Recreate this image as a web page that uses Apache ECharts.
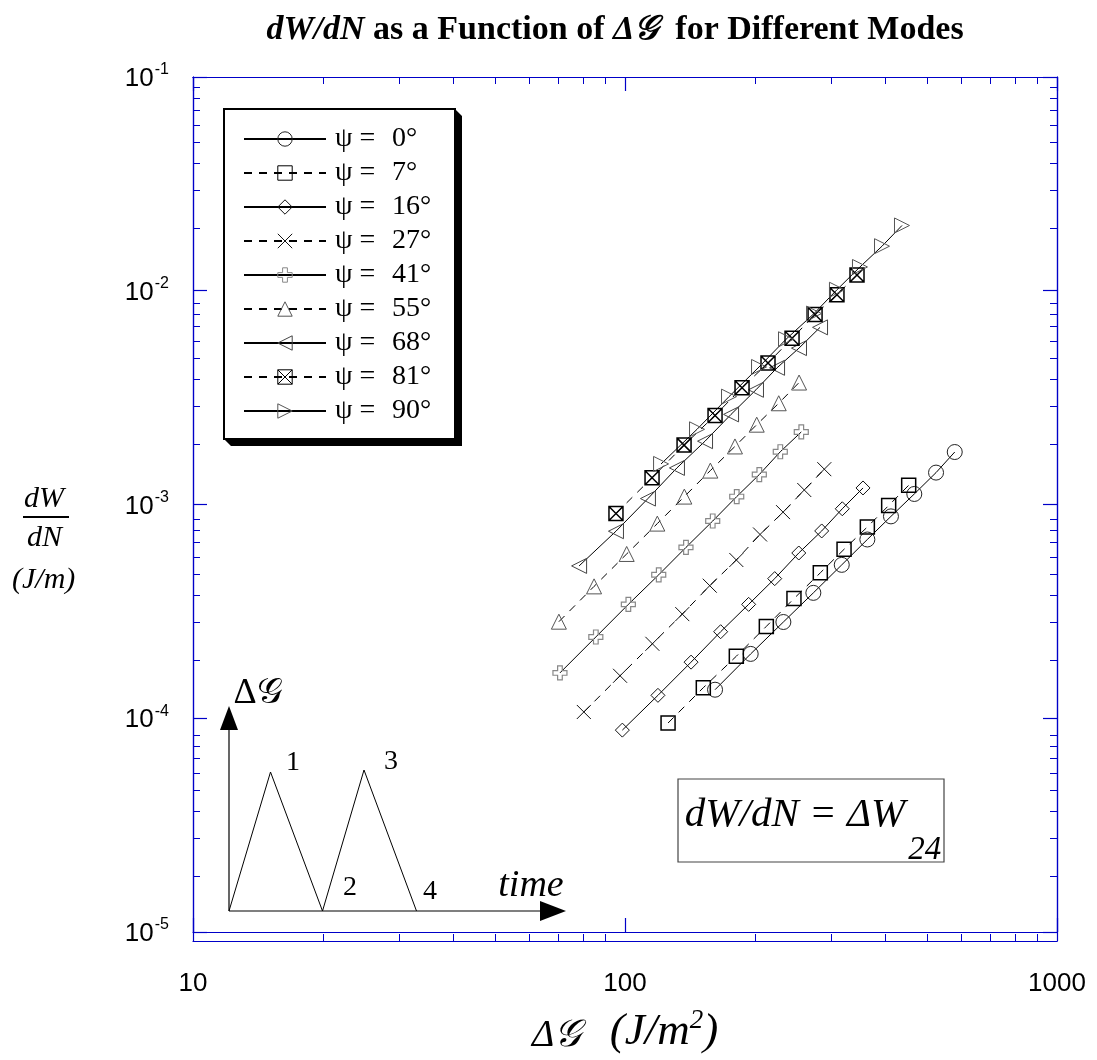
<!DOCTYPE html>
<html>
<head>
<meta charset="utf-8">
<script src="https://cdn.jsdelivr.net/npm/echarts@6/dist/echarts.min.js"></script>
<style>
  html, body { margin: 0; padding: 0; background: #fff; }
  #chart { width: 1097px; height: 1060px; }
</style>
</head>
<body>
<div id="chart"></div>
<script>
// Mode mixity angles (legend labels)
const angleLabels = ['0°', '7°', '16°', '27°', '41°', '55°', '68°', '81°', '90°'];

// Strain energy release rate range ΔG (J/m²) and energy dissipated per cycle dW/dN (J/m)
const dG_psi0  = [161.6, 195.4, 232.6, 272.9, 317.5, 363.9, 412.7, 467.4, 524.8, 579.8];
const dW_psi0  = [1.36e-4, 2.00e-4, 2.82e-4, 3.86e-4, 5.22e-4, 6.86e-4, 8.80e-4, 1.12e-3, 1.41e-3, 1.76e-3];
const dG_psi7  = [125.8, 151.8, 181.0, 212.4, 246.1, 283.2, 321.4, 363.9, 407.7, 453.6];
const dW_psi7  = [9.5e-5, 1.39e-4, 1.95e-4, 2.69e-4, 3.63e-4, 4.79e-4, 6.17e-4, 7.85e-4, 9.89e-4, 1.23e-3];
const dG_psi16 = [98.6, 119.2, 142.2, 166.5, 193.3, 222.1, 252.5, 285.3, 318.4, 355.6];
const dW_psi16 = [8.8e-5, 1.28e-4, 1.83e-4, 2.54e-4, 3.41e-4, 4.50e-4, 5.93e-4, 7.52e-4, 9.55e-4, 1.195e-3];
const dG_psi27 = [80.3, 97.4, 115.7, 135.7, 157.1, 181.0, 205.4, 232.2, 260.0, 289.3];
const dW_psi27 = [1.07e-4, 1.58e-4, 2.23e-4, 3.07e-4, 4.17e-4, 5.50e-4, 7.24e-4, 9.21e-4, 1.169e-3, 1.463e-3];
const dG_psi41 = [70.7, 85.6, 101.8, 119.7, 138.4, 159.6, 181.4, 204.6, 228.8, 255.9];
const dW_psi41 = [1.63e-4, 2.40e-4, 3.41e-4, 4.69e-4, 6.30e-4, 8.37e-4, 1.089e-3, 1.381e-3, 1.765e-3, 2.185e-3];
const dG_psi55 = [70.3, 84.8, 100.9, 118.8, 137.2, 157.6, 179.7, 201.8, 226.9, 252.9];
const dW_psi55 = [2.83e-4, 4.14e-4, 5.87e-4, 8.14e-4, 1.089e-3, 1.441e-3, 1.869e-3, 2.363e-3, 2.976e-3, 3.72e-3];
const dG_psi68 = [78.3, 95.3, 113.0, 131.9, 153.2, 176.0, 201.0, 224.9, 252.8, 282.8];
const dW_psi68 = [5.16e-4, 7.50e-4, 1.066e-3, 1.483e-3, 1.978e-3, 2.64e-3, 3.44e-3, 4.36e-3, 5.39e-3, 6.74e-3];
const dG_psi81 = [95.3, 115.5, 137.0, 161.6, 186.6, 214.3, 243.6, 275.4, 309.5, 344.4];
const dW_psi81 = [9.08e-4, 1.334e-3, 1.896e-3, 2.61e-3, 3.52e-3, 4.59e-3, 5.99e-3, 7.74e-3, 9.58e-3, 1.186e-2];
const dG_psi90 = [121.2, 146.8, 174.1, 204.3, 235.9, 273.9, 309.5, 349.9, 393.5, 437.7];
const dW_psi90 = [1.548e-3, 2.248e-3, 3.196e-3, 4.40e-3, 5.93e-3, 7.82e-3, 1.011e-2, 1.292e-2, 1.616e-2, 2.02e-2];

// Axis tick values
const xMajorTicks = [10, 100, 1000];
const yMajorTicks = [1e-5, 1e-4, 1e-3, 1e-2, 1e-1];

const xSeries = [dG_psi0, dG_psi7, dG_psi16, dG_psi27, dG_psi41, dG_psi55, dG_psi68, dG_psi81, dG_psi90];
const ySeries = [dW_psi0, dW_psi7, dW_psi16, dW_psi27, dW_psi41, dW_psi55, dW_psi68, dW_psi81, dW_psi90];

// log-decade minor tick positions (2..9 within each decade)
function minorTicks(fromExp, toExp) {
  const out = [];
  for (let e = fromExp; e < toExp; e++) {
    for (let k = 2; k <= 9; k++) out.push(Number((k * Math.pow(10, e)).toPrecision(3)));
  }
  return out;
}
const xMinorTicks = minorTicks(1, 3);
const yMinorTicks = minorTicks(-5, -1);

// Marker shapes
const SYM_X = 'path://M0,0L10,10M10,0L0,10';
const SYM_PLUS = 'path://M3,0H6V3H9V6H6V9H3V6H0V3H3Z';
const SYM_XBOX = 'path://M0,0H10V10H0ZM0,0L10,10M10,0L0,10';

const DASH = [8, 7];
const styles = [
  { symbol: 'circle',   size: 15, stroke: '#222', bw: 1,   dash: 'solid' },
  { symbol: 'rect',     size: 14, stroke: '#000', bw: 1.5, dash: DASH },
  { symbol: 'diamond',  size: 14, stroke: '#111', bw: 1,   dash: 'solid' },
  { symbol: SYM_X,      size: 14, stroke: '#111', bw: 1,   dash: DASH },
  { symbol: SYM_PLUS,   size: 14, stroke: '#888', bw: 1.2, dash: 'solid' },
  { symbol: 'triangle', size: 15, stroke: '#555', bw: 1,   dash: DASH },
  { symbol: 'triangle', size: 15, stroke: '#444', bw: 1,   dash: 'solid', rotate: 90 },
  { symbol: SYM_XBOX,   size: 14, stroke: '#000', bw: 1.5, dash: DASH },
  { symbol: 'triangle', size: 15, stroke: '#555', bw: 1,   dash: 'solid', rotate: -90 }
];

const BLUE = '#0000c8';
const SERIF = "'Liberation Serif', 'DejaVu Serif', serif";
const SANS = "'Liberation Sans', Arial, sans-serif";
const gridRect = { left: 193, top: 77, width: 864, height: 864 };

function axisBase(pos, gridIndex, min, max, extra) {
  return Object.assign({
    type: 'log', logBase: 10, position: pos, gridIndex: gridIndex, min: min, max: max,
    axisLine: { show: true, lineStyle: { color: BLUE, width: 1.2 } },
    splitLine: { show: false },
    axisLabel: { show: false },
    axisTick: { show: false }
  }, extra);
}

const majorTick = (vals) => ({ show: true, inside: true, length: 14, customValues: vals, lineStyle: { color: BLUE, width: 1.2 } });
const minorTick = (vals) => ({ show: true, inside: true, length: 7, customValues: vals, lineStyle: { color: BLUE, width: 1 } });

const xLabel = {
  show: true, customValues: xMajorTicks, margin: 39,
  color: '#000', fontFamily: SANS, fontSize: 26,
  formatter: (v) => String(Math.round(v))
};
const yLabel = {
  show: true, customValues: yMajorTicks, margin: 24,
  formatter: (v) => '{b|10}{s|' + Math.round(Math.log10(v)) + '}',
  rich: {
    b: { fontFamily: SANS, fontSize: 26, color: '#000', lineHeight: 30, verticalAlign: 'bottom' },
    s: { fontFamily: SANS, fontSize: 16, color: '#000', lineHeight: 16, verticalAlign: 'top', padding: [0, 0, 0, 1] }
  }
};

const series = angleLabels.map((name, i) => {
  const st = styles[i];
  return {
    name: name,
    type: 'line',
    xAxisIndex: 0, yAxisIndex: 0,
    data: xSeries[i].map((x, j) => [x, ySeries[i][j]]),
    symbol: st.symbol,
    symbolSize: st.size,
    symbolRotate: st.rotate || 0,
    showAllSymbol: true,
    lineStyle: { color: '#000', width: 1, type: st.dash },
    itemStyle: { color: 'rgba(0,0,0,0)', borderColor: st.stroke, borderWidth: st.bw },
    emphasis: { disabled: true },
    z: 3
  };
});

// Loading schematic (ΔG vs time) drawn in the lower-left corner
const waveShape = [[0, 0], [41.5, -139], [93.5, 0], [135, -141], [187.5, 0]];
const insetOrigin = [229, 911];

// Legend frame with its bevelled drop shadow
const legendBox = { x: 224, y: 109, w: 231, h: 330, s: 7 };

const chart = echarts.init(document.getElementById('chart'), null, { renderer: 'canvas' });
chart.setOption({
  animation: false,
  backgroundColor: '#fff',
  title: {
    left: 610, top: 8, textAlign: 'center',
    text: '{bi|dW/dN}{b| as a Function of }{i|Δ𝒢\u00a0\u00a0}{b|for Different Modes}',
    textStyle: {
      rich: {
        bi: { fontFamily: SERIF, fontSize: 34, fontWeight: 'bold', fontStyle: 'italic', color: '#000' },
        b:  { fontFamily: SERIF, fontSize: 34, fontWeight: 'bold', color: '#000' },
        i:  { fontFamily: SERIF, fontSize: 34, fontWeight: 'bold', fontStyle: 'italic', color: '#000' }
      }
    }
  },
  grid: [
    Object.assign({ containLabel: false }, gridRect),
    Object.assign({ containLabel: false }, gridRect)
  ],
  xAxis: [
    axisBase('bottom', 0, 10, 1000, { axisTick: majorTick(xMajorTicks), axisLabel: xLabel,
      name: '{d|Δ𝒢   }{u|(J/m}{p|2}{u|)}', nameLocation: 'middle', nameGap: 75,
      nameTextStyle: { rich: {
        d: { fontFamily: SERIF, fontSize: 38, fontStyle: 'italic', color: '#000', lineHeight: 48, verticalAlign: 'bottom' },
        u: { fontFamily: SERIF, fontSize: 45, fontStyle: 'italic', color: '#000', lineHeight: 48, verticalAlign: 'bottom' },
        p: { fontFamily: SERIF, fontSize: 27, fontStyle: 'italic', color: '#000', lineHeight: 27, verticalAlign: 'top' }
      } } }),
    axisBase('top', 0, 10, 1000, { axisTick: majorTick(xMajorTicks) }),
    axisBase('bottom', 1, 10, 1000, { axisTick: minorTick(xMinorTicks) }),
    axisBase('top', 1, 10, 1000, { axisTick: minorTick(xMinorTicks) })
  ],
  yAxis: [
    axisBase('left', 0, 1e-5, 1e-1, { axisTick: majorTick(yMajorTicks), axisLabel: yLabel }),
    axisBase('right', 0, 1e-5, 1e-1, { axisTick: majorTick(yMajorTicks) }),
    axisBase('left', 1, 1e-5, 1e-1, { axisTick: minorTick(yMinorTicks) }),
    axisBase('right', 1, 1e-5, 1e-1, { axisTick: minorTick(yMinorTicks) })
  ],
  legend: {
    orient: 'vertical', left: legendBox.x, top: legendBox.y, z: 20,
    padding: [13, 24, 11, 19],
    itemWidth: 82, itemHeight: 18, itemGap: 0,
    selectedMode: false,
    itemStyle: { borderWidth: 1 },
    data: angleLabels,
    formatter: (name) => '{a|ψ =}{n|' + name + '}',
    textStyle: {
      fontFamily: SERIF, fontSize: 28, color: '#000', lineHeight: 34,
      rich: {
        a: { fontFamily: SERIF, fontSize: 28, color: '#000', width: 57, padding: [0, 0, 0, 4], lineHeight: 34 },
        n: { fontFamily: SERIF, fontSize: 28, color: '#000', width: 40, lineHeight: 34 }
      }
    }
  },
  graphic: [
    // legend frame
    { type: 'polygon', z: 1,
      shape: { points: [
        [legendBox.x + legendBox.w, legendBox.y],
        [legendBox.x + legendBox.w + legendBox.s, legendBox.y + legendBox.s],
        [legendBox.x + legendBox.w + legendBox.s, legendBox.y + legendBox.h + legendBox.s],
        [legendBox.x + legendBox.s, legendBox.y + legendBox.h + legendBox.s],
        [legendBox.x, legendBox.y + legendBox.h],
        [legendBox.x + legendBox.w, legendBox.y + legendBox.h]
      ] },
      style: { fill: '#000' } },
    { type: 'rect', z: 2, shape: { x: legendBox.x, y: legendBox.y, width: legendBox.w, height: legendBox.h },
      style: { fill: '#fff', stroke: '#000', lineWidth: 2 } },

    // y-axis name: dW/dN (J/m)
    { type: 'text', left: 24, top: 484, style: { text: 'dW', font: "italic 30px " + SERIF, fill: '#000' } },
    { type: 'line', shape: { x1: 23, y1: 517, x2: 69, y2: 517 }, style: { stroke: '#000', lineWidth: 2 } },
    { type: 'text', left: 27, top: 523, style: { text: 'dN', font: "italic 30px " + SERIF, fill: '#000' } },
    { type: 'text', left: 12, top: 565, style: { text: '(J/m)', font: "italic 30px " + SERIF, fill: '#000' } },

    // formula box
    { type: 'rect', shape: { x: 678, y: 779, width: 266, height: 83 }, style: { fill: '#fff', stroke: '#444', lineWidth: 1.2 }, z: 10 },
    { type: 'text', x: 813, y: 831, z: 11,
      style: {
        text: '{m|dW/dN = ΔW}{s|24}', align: 'center', verticalAlign: 'middle',
        rich: {
          m: { font: "italic 41px " + SERIF, fill: '#000', lineHeight: 50, verticalAlign: 'top' },
          s: { font: "italic 33px " + SERIF, fill: '#000', lineHeight: 72, verticalAlign: 'bottom', padding: [0, 0, 0, 3] }
        }
      }
    },

    // loading schematic
    {
      type: 'group', x: insetOrigin[0], y: insetOrigin[1], z: 5,
      children: [
        { type: 'line', shape: { x1: 0, y1: 0, x2: 0, y2: -182 }, style: { stroke: '#000', lineWidth: 1.2 } },
        { type: 'polygon', shape: { points: [[-9, -181], [9, -181], [0, -205]] }, style: { fill: '#000' } },
        { type: 'line', shape: { x1: 0, y1: 0, x2: 312, y2: 0 }, style: { stroke: '#000', lineWidth: 1.2 } },
        { type: 'polygon', shape: { points: [[311, -10], [311, 10], [337, 0]] }, style: { fill: '#000' } },
        { type: 'polyline', shape: { points: waveShape }, style: { stroke: '#000', lineWidth: 1, fill: null } },
        { type: 'text', x: 64, y: -148, style: { text: '1', font: "28px " + SERIF, fill: '#000', align: 'center', verticalAlign: 'middle' } },
        { type: 'text', x: 121, y: -23, style: { text: '2', font: "28px " + SERIF, fill: '#000', align: 'center', verticalAlign: 'middle' } },
        { type: 'text', x: 162, y: -149, style: { text: '3', font: "28px " + SERIF, fill: '#000', align: 'center', verticalAlign: 'middle' } },
        { type: 'text', x: 201, y: -19, style: { text: '4', font: "28px " + SERIF, fill: '#000', align: 'center', verticalAlign: 'middle' } },
        { type: 'text', x: 29, y: -217, style: { text: 'Δ𝒢', font: "36px " + SERIF, fill: '#000', align: 'center', verticalAlign: 'middle' } },
        { type: 'text', x: 302, y: -25, style: { text: 'time', font: "italic 38px " + SERIF, fill: '#000', align: 'center', verticalAlign: 'middle' } }
      ]
    }
  ],
  series: series
});
</script>
</body>
</html>
